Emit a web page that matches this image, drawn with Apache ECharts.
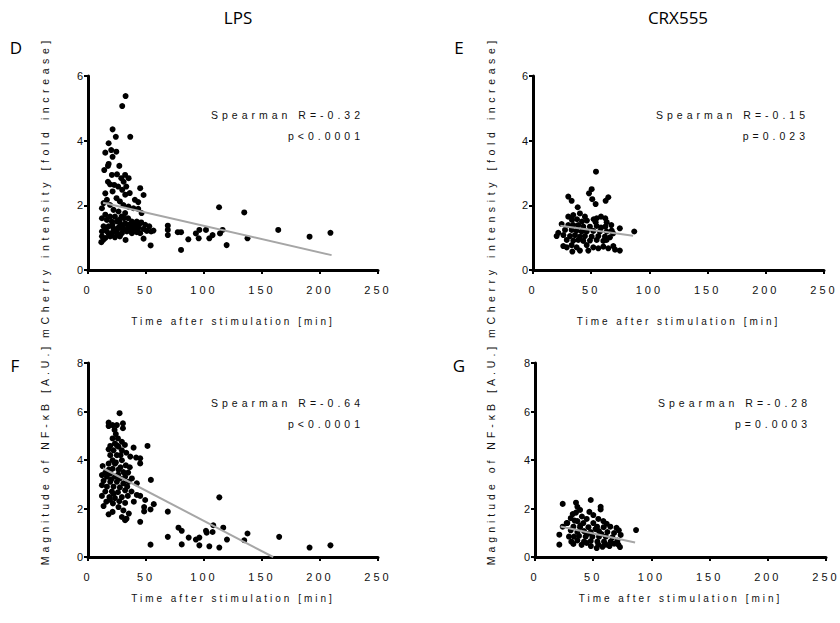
<!DOCTYPE html>
<html>
<head>
<meta charset="utf-8">
<script src="https://cdn.jsdelivr.net/npm/echarts@6/dist/echarts.min.js"></script>
<style>
html, body { margin: 0; padding: 0; background: #fff; }
#chart { width: 840px; height: 623px; }
/* the figure's sans text is set wide; same face under three names, three spacings */
#chart text[style*="Liberation"] { letter-spacing: 3px; }
#chart text[style*="Arial"] { letter-spacing: 4px; }
#chart text[style*="Arimo"] { letter-spacing: 4.6px; }
</style>
</head>
<body>
<div id="chart"></div>
<script>
// panel D: LPS, mCherry vs time  [time (min), fold increase]
let mcherryLps = [
    [32.4,5.38],[29.5,5.07],[21.2,4.35],[24,4.12],[36.4,4.12],[17.8,3.92],[14.9,3.63],[20,3.71],[24.4,3.66],[21.2,3.5],
    [17.8,3.28],[17.2,3.22],[27,3.22],[14,3.09],[20.6,2.94],[25,2.96],[32,2.94],[35,2.84],[28.7,2.84],[30.7,2.73],
    [17.2,2.73],[19,2.65],[22.6,2.63],[26,2.58],[33,2.58],[14.9,2.37],[21.2,2.43],[29.5,2.48],[32.1,2.33],[45,2.53],
    [47.9,2.32],[40.4,2.17],[36,2.38],[16.3,2.17],[24.6,2.22],[27.5,2.12],[13.4,2.07],[19,2.01],[30.5,2.01],[34.9,1.96],
    [43.3,2.1],[22,1.86],[26.3,1.81],[32,1.76],[39.2,1.91],[43.3,1.89],[46.2,1.76],[12,1.91],[14.9,1.71],[19,1.65],
    [23.2,1.65],[28.9,1.65],[34.6,1.6],[12,1.6],[16.3,1.55],[20.6,1.5],[24.9,1.5],[27.7,1.44],[32.1,1.44],[37.8,1.5],
    [42.1,1.5],[45.9,1.47],[49.3,1.4],[52.8,1.35],[13.4,1.35],[17.7,1.35],[22,1.29],[26.3,1.31],[30.5,1.27],[34.9,1.31],
    [39.2,1.27],[43.3,1.29],[47.9,1.27],[50.7,1.21],[54.4,1.19],[56.4,1.22],[12,1.19],[16.3,1.19],[20.6,1.14],[24.9,1.14],
    [29.2,1.14],[33.5,1.19],[37.8,1.14],[42.1,1.17],[45,1.14],[12,1.04],[14.9,0.99],[19,1.04],[23.2,1.01],[27.5,1.04],
    [13.4,0.94],[11.5,0.86],[32.4,0.93],[47.9,0.97],[54,0.76],[18,1.1],[22,1.2],[25,1.25],[28,1.3],[30,1.35],
    [35,1.4],[38,1.35],[40,1.42],[27,1.55],[31,1.6],[21,1.4],[15,1.3],[36,1.25],[41,1.3],[44,1.4],
    [68.8,1.37],[68.8,1.24],[68.8,1.08],[77.4,1.17],[80.2,1.17],[80.2,0.62],[86.5,0.95],[93,1.13],[95.4,0.98],[96,1.24],
    [101.7,1.24],[104.6,0.98],[107.4,1.08],[113.8,1.13],[116,1.24],[113,1.94],[119.5,0.77],[134.7,1.78],[137.5,0.98],[164,1.24],
    [191,1.03],[209,1.15]
];
let fitMcherryLps = [[13,2.08],[210,0.46]];

// panel E: CRX555, mCherry vs time
let mcherryCrx = [
    [54.1,3.04],[50.4,2.5],[48.1,2.37],[50.9,2.19],[53.8,2.04],[30.3,2.27],[33.2,2.14],[38.4,1.94],[62.4,2.14],[64.7,2.25],
    [30.3,1.65],[34.6,1.7],[40.3,1.75],[44.6,1.65],[33.5,1.55],[37.8,1.57],[42.1,1.5],[46.3,1.53],[52.1,1.57],
    [54.7,1.6],[58.4,1.65],[62.1,1.6],[63.3,1.48],[62.1,1.34],[58.4,1.31],[54.7,1.36],[53.8,1.48],
    [24.6,1.42],[30.3,1.39],[34.6,1.39],[38.9,1.39],[43.2,1.34],[48.9,1.34],[67.3,1.39],[74.6,1.29],[87,1.19],[21.7,1.15],
    [27.5,1.24],[33.2,1.24],[37.5,1.22],[41.8,1.19],[46.1,1.19],[51.8,1.21],[57.5,1.19],[63.3,1.19],[67.6,1.22],[20.3,1.05],
    [26.1,1.08],[31.8,1.05],[36.1,1.08],[40.4,1.03],[44.6,1.05],[50.4,1.03],[56.1,1.05],[61.8,1.03],[66.1,1.01],[29,0.93],
    [34.6,0.91],[38.9,0.93],[43.2,0.9],[48.9,0.91],[54.7,0.93],[60.4,0.9],[63.2,0.93],[26,0.74],[29,0.7],[37.5,0.7],
    [40.3,0.6],[47.5,0.6],[51.8,0.7],[56.1,0.67],[60.4,0.72],[64.7,0.67],[69,0.74],[70.5,0.63],[74.6,0.6],[46.1,0.77],
    [33.2,0.77],[33.8,0.57],[68.8,1.13]
];
let fitMcherryCrx = [[23.5,1.37],[86,1.06]];

// panel F: LPS, NF-kB magnitude vs time
let nfkbLps = [
    [27.2,5.93],[17.8,5.54],[17.8,5.4],[21.2,5.44],[24.9,5.44],[30.1,5.51],[30.1,5.31],[22.9,5.24],[24,5.07],[21.2,4.89],
    [25.8,4.89],[29.2,4.75],[23.2,4.68],[19.2,4.58],[26.3,4.55],[31.8,4.62],[39.3,4.51],[51.3,4.58],[17.8,4.44],[22,4.4],
    [29.2,4.4],[33,4.3],[19.2,4.2],[24.9,4.2],[36.4,4.14],[41.5,4.1],[45,4.07],[45,3.86],[21.2,3.99],[29.2,3.99],
    [17.8,3.85],[23.2,3.85],[32.6,3.78],[12.6,3.75],[36,3.7],[21.2,3.64],[26.3,3.6],[30.5,3.5],[14.9,3.48],[19.2,3.45],
    [34.6,3.48],[12,3.38],[16.3,3.31],[23.2,3.31],[27.5,3.24],[32,3.31],[37.8,3.24],[54.2,3.18],[13.4,3.14],[19.2,3.1],
    [24.9,3.1],[30.5,3.04],[42.1,3.04],[12,2.96],[16.3,2.9],[22,2.9],[27.5,2.87],[33.8,2.9],[14.9,2.7],[20.6,2.7],
    [25.8,2.67],[32,2.75],[37.5,2.7],[42.1,2.56],[45,2.52],[12,2.52],[18.4,2.47],[23.2,2.43],[29.2,2.47],[34.3,2.52],
    [49.3,2.35],[39.5,2.28],[15.8,2.28],[21.5,2.21],[32,2.23],[56.7,2.18],[26.3,2.06],[13.4,2.1],[48.4,2.06],[53.9,1.96],
    [48.4,1.88],[30.5,1.92],[21.2,1.86],[17.8,1.76],[35.2,1.79],[29.2,1.65],[32,1.52],[33.2,1.58],[45,1.45],[20,3.2],
    [26,3.4],[28,3.7],[24,3.9],[18,3.6],[22,2.6],[27,2.3],[19,2.35],[25,4.6],[28,4.2],[35,3.1],
    [68.8,1.87],[68.8,0.83],[53.9,0.51],[78,1.21],[80.8,1.08],[80.8,0.52],[86.8,0.8],[93,0.72],[96,0.8],[96,0.48],
    [101.7,1.08],[102.3,1.0],[104.6,0.44],[107.4,1.03],[108,1.31],[113.2,2.46],[113.2,0.39],[116.6,1.21],[119.8,0.72],[134.7,0.69],
    [137.5,0.97],[164.8,0.83],[191,0.39],[209,0.48]
];
let fitNfkbLps = [[12.9,3.66],[159.6,0]];

// panel G: CRX555, NF-kB magnitude vs time
let nfkbCrx = [
    [23.8,2.19],[35.2,2.24],[47.9,2.35],[36.4,2.07],[38.7,1.94],[56.4,2.07],[56.4,1.96],[32.4,1.77],[35.2,1.83],[46.7,1.86],
    [50.1,1.73],[40.3,1.67],[30.7,1.6],[44.4,1.57],[54.4,1.57],[36.4,1.48],[58.7,1.48],[27.8,1.4],[41.5,1.4],[50.1,1.4],
    [61.6,1.37],[23.8,1.25],[33,1.25],[38.7,1.23],[45.9,1.23],[53.3,1.25],[59,1.23],[64.7,1.25],[20.9,0.92],[30.7,1.1],
    [36.4,1.03],[42.1,1.07],[47.9,1.03],[55,1.07],[62.2,1.03],[67.9,0.99],[86.8,1.11],[29.2,0.84],[33.5,0.84],[37.8,0.87],
    [43.5,0.84],[49.3,0.84],[55,0.84],[60.8,0.84],[66.5,0.81],[73.6,0.91],[31.2,0.63],[36.4,0.68],[42.1,0.63],[47.9,0.66],
    [53.6,0.63],[59.3,0.63],[65,0.63],[70.8,0.68],[20.9,0.51],[33,0.54],[44.4,0.58],[54.4,0.51],[61,0.51],[71.6,0.51],
    [53,0.37],[73,0.41],[27.2,1.4],[70,1.2],[72,1.1],[68,0.55],[40,0.5],[48,0.45],[58,0.42],[64,0.45],
    [39,1.3],[52,1.15],[45,0.95],[57,0.95],[34,1.5]
];
let fitNfkbCrx = [[22,1.26],[86,0.6]];

let xTicks = [0, 50, 100, 150, 200, 250];
let stats = [
    ['Spearman R=-0.32', 'p<0.0001'],
    ['Spearman R=-0.15', 'p=0.023'],
    ['Spearman R=-0.64', 'p<0.0001'],
    ['Spearman R=-0.28', 'p=0.0003']
];

let myChart = echarts.init(document.getElementById('chart'), null, {renderer: 'svg'});

// all three resolve to Liberation Sans; the names only pick the letter spacing
let labelFont = 'Liberation Sans';
let wideFont = 'Arial';
let widerFont = 'Arimo, Liberation Sans';
let headFont = 'Open Sans';

function xAxisOf(idx, gap) {
    return {
        gridIndex: idx,
        type: 'value',
        min: xTicks[0],
        max: xTicks[xTicks.length - 1],
        interval: 50,
        name: 'Time after stimulation [min]',
        nameLocation: 'middle',
        nameGap: gap,
        nameTextStyle: {color: '#111', fontSize: 10, fontFamily: labelFont},
        axisLine: {show: true, onZero: false, lineStyle: {color: '#000', width: 3}},
        axisTick: {show: true, length: 4, lineStyle: {color: '#000', width: 2}},
        axisLabel: {color: '#111', fontSize: 11, margin: 14, fontFamily: labelFont},
        splitLine: {show: false}
    };
}

function yAxisOf(idx, max, name, gap, font, pad) {
    return {
        gridIndex: idx,
        type: 'value',
        min: 0,
        max: max,
        interval: 2,
        name: name,
        nameLocation: 'middle',
        nameGap: gap,
        nameTextStyle: {color: '#111', fontSize: 10.5, fontFamily: font, padding: pad},
        axisLine: {show: true, onZero: false, lineStyle: {color: '#000', width: 3}},
        axisTick: {show: true, length: 4, lineStyle: {color: '#000', width: 2}},
        axisLabel: {color: '#111', fontSize: 11, margin: 2, fontFamily: labelFont},
        splitLine: {show: false}
    };
}

function dots(idx, data) {
    return {
        type: 'scatter', xAxisIndex: idx, yAxisIndex: idx,
        data: data, symbolSize: 6,
        itemStyle: {color: '#000', opacity: 1}
    };
}

function fit(idx, data) {
    return {
        type: 'line', xAxisIndex: idx, yAxisIndex: idx,
        data: data, symbol: 'none', z: 3,
        lineStyle: {color: '#a6a6a6', width: 2}
    };
}

function statText(x, y, lines) {
    return [
        {type: 'text', x: x, y: y, style: {text: lines[0], textAlign: 'right', textVerticalAlign: 'middle', fontSize: 10.5, fontFamily: wideFont, fill: '#111'}},
        {type: 'text', x: x, y: y + 21, style: {text: lines[1], textAlign: 'right', textVerticalAlign: 'middle', fontSize: 10.5, fontFamily: wideFont, fill: '#111'}}
    ];
}

function head(x, y, text) {
    return {type: 'text', x: x, y: y, style: {text: text, textAlign: 'center', textVerticalAlign: 'middle', fontSize: 17, fontFamily: headFont, fill: '#000'}};
}

let option = {
    animation: false,
    backgroundColor: '#fff',
    grid: [
        {left: 88, top: 76, width: 290, height: 194, containLabel: false},
        {left: 533, top: 76, width: 291, height: 194, containLabel: false},
        {left: 88, top: 363, width: 290, height: 194, containLabel: false},
        {left: 535, top: 363, width: 291, height: 194, containLabel: false}
    ],
    xAxis: [xAxisOf(0, 46), xAxisOf(1, 46), xAxisOf(2, 36), xAxisOf(3, 36)],
    yAxis: [
        yAxisOf(0, 6, 'mCherry intensity [fold increase]', 38, widerFont, [0, 28, 0, 0]),
        yAxisOf(1, 6, 'mCherry intensity [fold increase]', 37, widerFont, [0, 28, 0, 0]),
        yAxisOf(2, 8, 'Magnitude of NF-\u03baB [A.U.]', 38, wideFont, [0, 0, 0, 12]),
        yAxisOf(3, 8, 'Magnitude of NF-\u03baB [A.U.]', 39, wideFont, [0, 0, 0, 12])
    ],
    series: [
        dots(0, mcherryLps), fit(0, fitMcherryLps),
        dots(1, mcherryCrx), fit(1, fitMcherryCrx),
        dots(2, nfkbLps), fit(2, fitNfkbLps),
        dots(3, nfkbCrx), fit(3, fitNfkbCrx)
    ],
    graphic: [
        head(238, 17, 'LPS'),
        head(678, 17, 'CRX555'),
        head(16, 47, 'D'),
        head(459, 47, 'E'),
        head(15, 365, 'F'),
        head(459, 365, 'G')
    ].concat(
        statText(364, 115, stats[0]),
        statText(809, 115, stats[1]),
        statText(364, 403, stats[2]),
        statText(811, 403, stats[3])
    )
};

myChart.setOption(option);
</script>
</body>
</html>
